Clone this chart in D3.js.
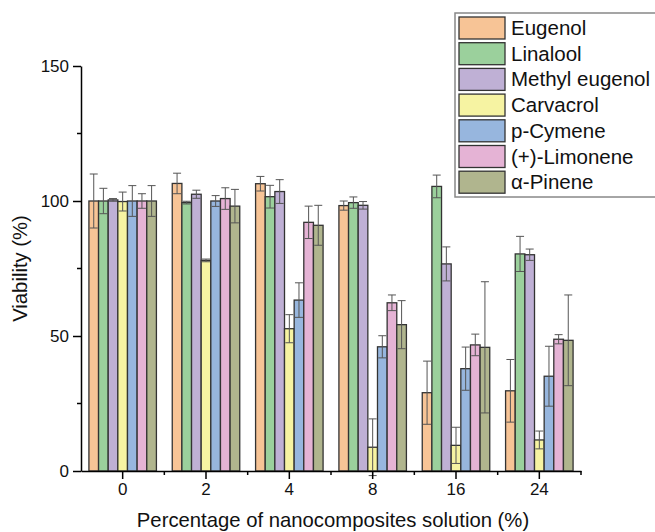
<!DOCTYPE html>
<html>
<head>
<meta charset="utf-8">
<script src="https://cdn.jsdelivr.net/npm/d3@7"></script>
<style>
  body { margin: 0; background: #fff; }
  svg { display: block; font-family: "Liberation Sans", Arial, sans-serif; }
</style>
</head>
<body>
<div id="chart"></div>
<script>
var categories = ["0", "2", "4", "8", "16", "24"];
var seriesNames = ["Eugenol", "Linalool", "Methyl eugenol", "Carvacrol", "p-Cymene", "(+)-Limonene", "\u03b1-Pinene"];
var colors = ["#F7C496", "#9BD09C", "#BFB0D5", "#F6F3A2", "#97B6DE", "#E5B3D5", "#B0B58E"];

// mean viability per series, one value per category
var eugenol   = [100, 106.5, 106.4, 98.3, 29.0, 29.7];
var linalool  = [100, 99.4, 101.6, 99.4, 105.4, 80.4];
var methylEug = [100.4, 102.5, 103.5, 98.4, 76.7, 80.1];
var carvacrol = [99.8, 78.0, 52.7, 8.8, 9.5, 11.5];
var pCymene   = [100, 100.0, 63.3, 46.0, 37.9, 35.1];
var limonene  = [100, 100.9, 92.1, 62.3, 46.7, 48.8];
var pinene    = [100, 98.1, 91.0, 54.2, 45.8, 48.4];

// error (+/-)
var eugenolErr   = [10.0, 3.8, 2.7, 1.7, 11.7, 11.6];
var linaloolErr  = [4.7, 0.5, 4.2, 2.1, 4.2, 6.5];
var methylEugErr = [0.5, 1.5, 4.4, 1.4, 6.3, 2.1];
var carvacrolErr = [3.5, 0.5, 5.2, 10.5, 6.7, 3.3];
var pCymeneErr   = [5.7, 2.0, 6.4, 4.1, 8.0, 11.1];
var limoneneErr  = [2.7, 4.0, 6.0, 2.9, 4.0, 1.7];
var pineneErr    = [5.7, 6.2, 7.4, 8.9, 24.3, 16.8];

var yTicks = [0, 50, 100, 150];
var yMinor = [25, 75, 125];

var values = [eugenol, linalool, methylEug, carvacrol, pCymene, limonene, pinene];
var errors = [eugenolErr, linaloolErr, methylEugErr, carvacrolErr, pCymeneErr, limoneneErr, pineneErr];

var width = 655, height = 532;
var mLeft = 81, mRight = 581, mTop = 66, mBottom = 471;

var svg = d3.select("#chart").append("svg").attr("width", width).attr("height", height);

var x0 = d3.scaleBand().domain(categories).range([mLeft, mRight]).paddingInner(0.19).paddingOuter(0.095);
var x1 = d3.scaleBand().domain(d3.range(seriesNames.length)).range([0, x0.bandwidth()]);
var y = d3.scaleLinear().domain([0, 150]).range([mBottom, mTop]);

var rows = [];
categories.forEach(function (c, ci) {
  seriesNames.forEach(function (s, si) {
    rows.push({ cat: c, si: si, v: values[si][ci], e: errors[si][ci] });
  });
});

// bars
svg.append("g").selectAll("rect").data(rows).enter().append("rect")
  .attr("x", function (d) { return x0(d.cat) + x1(d.si); })
  .attr("y", function (d) { return y(d.v); })
  .attr("width", x1.bandwidth())
  .attr("height", function (d) { return y(0) - y(d.v); })
  .attr("fill", function (d) { return colors[d.si]; })
  .attr("stroke", "#333")
  .attr("stroke-width", 1.3);

// error bars
var cap = 4;
var eb = svg.append("g").attr("stroke", "#555").attr("stroke-width", 1).attr("fill", "none");
rows.forEach(function (d) {
  var cx = x0(d.cat) + x1(d.si) + x1.bandwidth() / 2;
  var y1 = y(d.v + d.e), y2 = y(d.v - d.e);
  eb.append("line").attr("x1", cx).attr("x2", cx).attr("y1", y1).attr("y2", y2);
  eb.append("line").attr("x1", cx - cap).attr("x2", cx + cap).attr("y1", y1).attr("y2", y1);
  eb.append("line").attr("x1", cx - cap).attr("x2", cx + cap).attr("y1", y2).attr("y2", y2);
});

// axes
var xAxis = svg.append("g").attr("transform", "translate(0," + mBottom + ")")
  .call(d3.axisBottom(x0).tickSize(8).tickSizeOuter(0).tickPadding(4));
var minorX = [];
for (var i = 1; i <= categories.length; i++) minorX.push(mLeft + i * x0.step());
svg.append("g").selectAll("line").data(minorX).enter().append("line")
  .attr("x1", function (d) { return d; }).attr("x2", function (d) { return d; })
  .attr("y1", mBottom).attr("y2", mBottom + 4)
  .attr("stroke", "#000").attr("stroke-width", 1.5);

var yAxis = svg.append("g").attr("transform", "translate(" + mLeft + ",0)")
  .call(d3.axisLeft(y).tickValues(yTicks).tickSize(8).tickSizeOuter(0).tickPadding(4));
svg.append("g").selectAll("line").data(yMinor).enter().append("line")
  .attr("x1", mLeft - 4).attr("x2", mLeft)
  .attr("y1", function (d) { return y(d); }).attr("y2", function (d) { return y(d); })
  .attr("stroke", "#000").attr("stroke-width", 1.5);

[xAxis, yAxis].forEach(function (a) {
  a.select(".domain").attr("stroke", "#000").attr("stroke-width", 1.5);
  a.selectAll(".tick line").attr("stroke", "#000").attr("stroke-width", 1.5);
  a.selectAll(".tick text").attr("font-size", 17).attr("fill", "#111")
    .attr("font-family", "'Liberation Sans', Arial, sans-serif");
});

// axis titles
svg.append("text").attr("x", (mLeft + mRight) / 2 + 2).attr("y", 527)
  .attr("text-anchor", "middle").attr("font-size", 20.3).attr("fill", "#111")
  .text("Percentage of nanocomposites solution (%)");
svg.append("text").attr("transform", "translate(27," + ((mTop + mBottom) / 2) + ") rotate(-90)")
  .attr("text-anchor", "middle").attr("font-size", 20.3).attr("fill", "#111")
  .text("Viability (%)");

// legend
var lg = svg.append("g");
lg.append("rect").attr("x", 455).attr("y", 13).attr("width", 205).attr("height", 184)
  .attr("fill", "#fff").attr("stroke", "#888").attr("stroke-width", 1.5);
seriesNames.forEach(function (s, i) {
  var yy = 17 + i * 25.7;
  lg.append("rect").attr("x", 459).attr("y", yy).attr("width", 46).attr("height", 22)
    .attr("fill", colors[i]).attr("stroke", "#333").attr("stroke-width", 1.3);
  lg.append("text").attr("x", 511).attr("y", yy + 18).attr("font-size", 20.5).attr("fill", "#111").text(s);
});
</script>
</body>
</html>
